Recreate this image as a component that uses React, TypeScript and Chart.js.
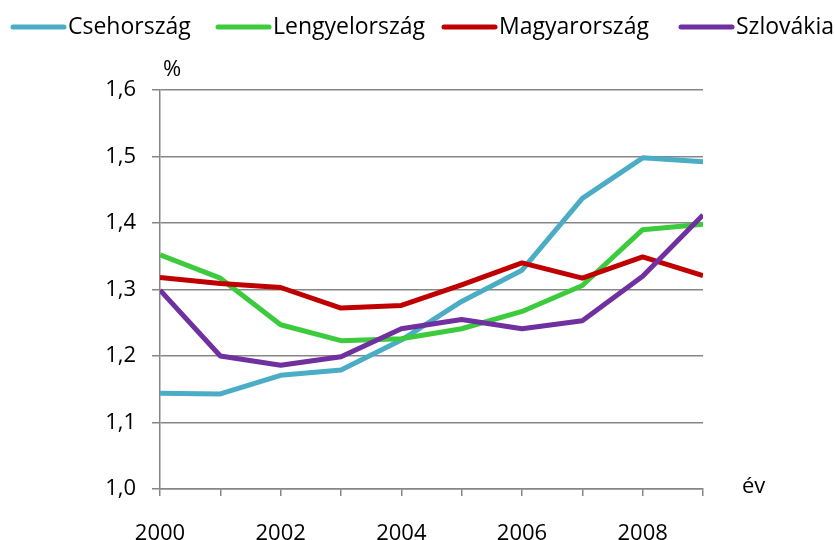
import React, { useEffect, useRef } from "react";
import { Chart, registerables } from "chart.js";

Chart.register(...registerables);

const years = [2000, 2001, 2002, 2003, 2004, 2005, 2006, 2007, 2008, 2009];
const seriesNames = ["Csehország", "Lengyelország", "Magyarország", "Szlovákia"];
const cseh = [1.144, 1.143, 1.171, 1.179, 1.224, 1.282, 1.329, 1.437, 1.498, 1.492];
const lengyel = [1.352, 1.317, 1.247, 1.223, 1.226, 1.241, 1.267, 1.306, 1.39, 1.398];
const magyar = [1.318, 1.309, 1.303, 1.272, 1.276, 1.307, 1.34, 1.317, 1.349, 1.321];
const szlovak = [1.299, 1.2, 1.186, 1.199, 1.241, 1.255, 1.241, 1.253, 1.32, 1.412];
const colors = ["#4BACC6", "#3CCB3C", "#C00000", "#7030A0"];
const yUnit = "%";
const xUnit = "év";

const FONT = "'Open Sans', 'DejaVu Sans', sans-serif";

const legendStarts = [11, 216, 442, 679];

const overlayPlugin = {
  id: "overlay",
  afterDraw(chart: any) {
    const ctx = chart.ctx;
    ctx.save();
    ctx.fillStyle = "#000";
    ctx.textBaseline = "alphabetic";
    ctx.textAlign = "left";
    ctx.font = `23px ${FONT}`;
    seriesNames.forEach((name, i) => {
      const x0 = legendStarts[i];
      ctx.strokeStyle = colors[i];
      ctx.lineWidth = 5;
      ctx.lineCap = "round";
      ctx.beginPath();
      ctx.moveTo(x0 + 2, 27);
      ctx.lineTo(x0 + 53, 27);
      ctx.stroke();
      ctx.fillText(name, x0 + 57, 34);
    });
    ctx.font = `22px ${FONT}`;
    ctx.fillText(yUnit, 163, 76);
    ctx.fillText(xUnit, 742, 493);
    ctx.restore();
  },
};

export default function App() {
  const ref = useRef<HTMLCanvasElement | null>(null);
  useEffect(() => {
    if (!ref.current) return;
    const all = [cseh, lengyel, magyar, szlovak];
    const chart = new Chart(ref.current, {
      type: "line",
      data: {
        datasets: all.map((vals, i) => ({
          label: seriesNames[i],
          data: years.map((y, j) => ({ x: y, y: vals[j] })),
          borderColor: colors[i],
          backgroundColor: colors[i],
          borderWidth: 5,
          pointRadius: 0,
          borderJoinStyle: "round" as const,
          tension: 0,
          order: 4 - i,
        })),
      },
      options: {
        animation: false,
        responsive: false,
        maintainAspectRatio: false,
        layout: { padding: { left: 0, top: 90, right: 132, bottom: 0 } },
        plugins: { legend: { display: false }, tooltip: { enabled: false } },
        scales: {
          x: {
            type: "linear",
            min: 2000,
            max: 2009,
            afterFit: (s: any) => {
              s.height = 51;
            },
            border: { color: "#868686", width: 1.5 },
            grid: { drawOnChartArea: false, drawTicks: true, tickLength: 7, color: "#868686", lineWidth: 1.5 },
            ticks: {
              stepSize: 1,
              autoSkip: false,
              maxRotation: 0,
              padding: 25,
              color: "#000",
              font: { family: FONT, size: 22 },
              callback: (v: any) => (Number(v) % 2 === 0 ? String(v) : ""),
            },
          },
          y: {
            min: 1.0,
            max: 1.6,
            afterFit: (s: any) => {
              s.width = 160;
            },
            border: { color: "#868686", width: 1.5 },
            grid: { color: "#868686", lineWidth: 1.5, tickLength: 8 },
            ticks: {
              stepSize: 0.1,
              padding: 16,
              color: "#000",
              font: { family: FONT, size: 22 },
              callback: (v: any) => Number(v).toFixed(1).replace(".", ","),
            },
          },
        },
      },
      plugins: [overlayPlugin],
    });
    return () => chart.destroy();
  }, []);
  return (
    <div style={{ position: "fixed", left: 0, top: 0, width: 835, height: 540, background: "#fff" }}>
      <canvas ref={ref} width={835} height={540} style={{ width: 835, height: 540 }} />
    </div>
  );
}
